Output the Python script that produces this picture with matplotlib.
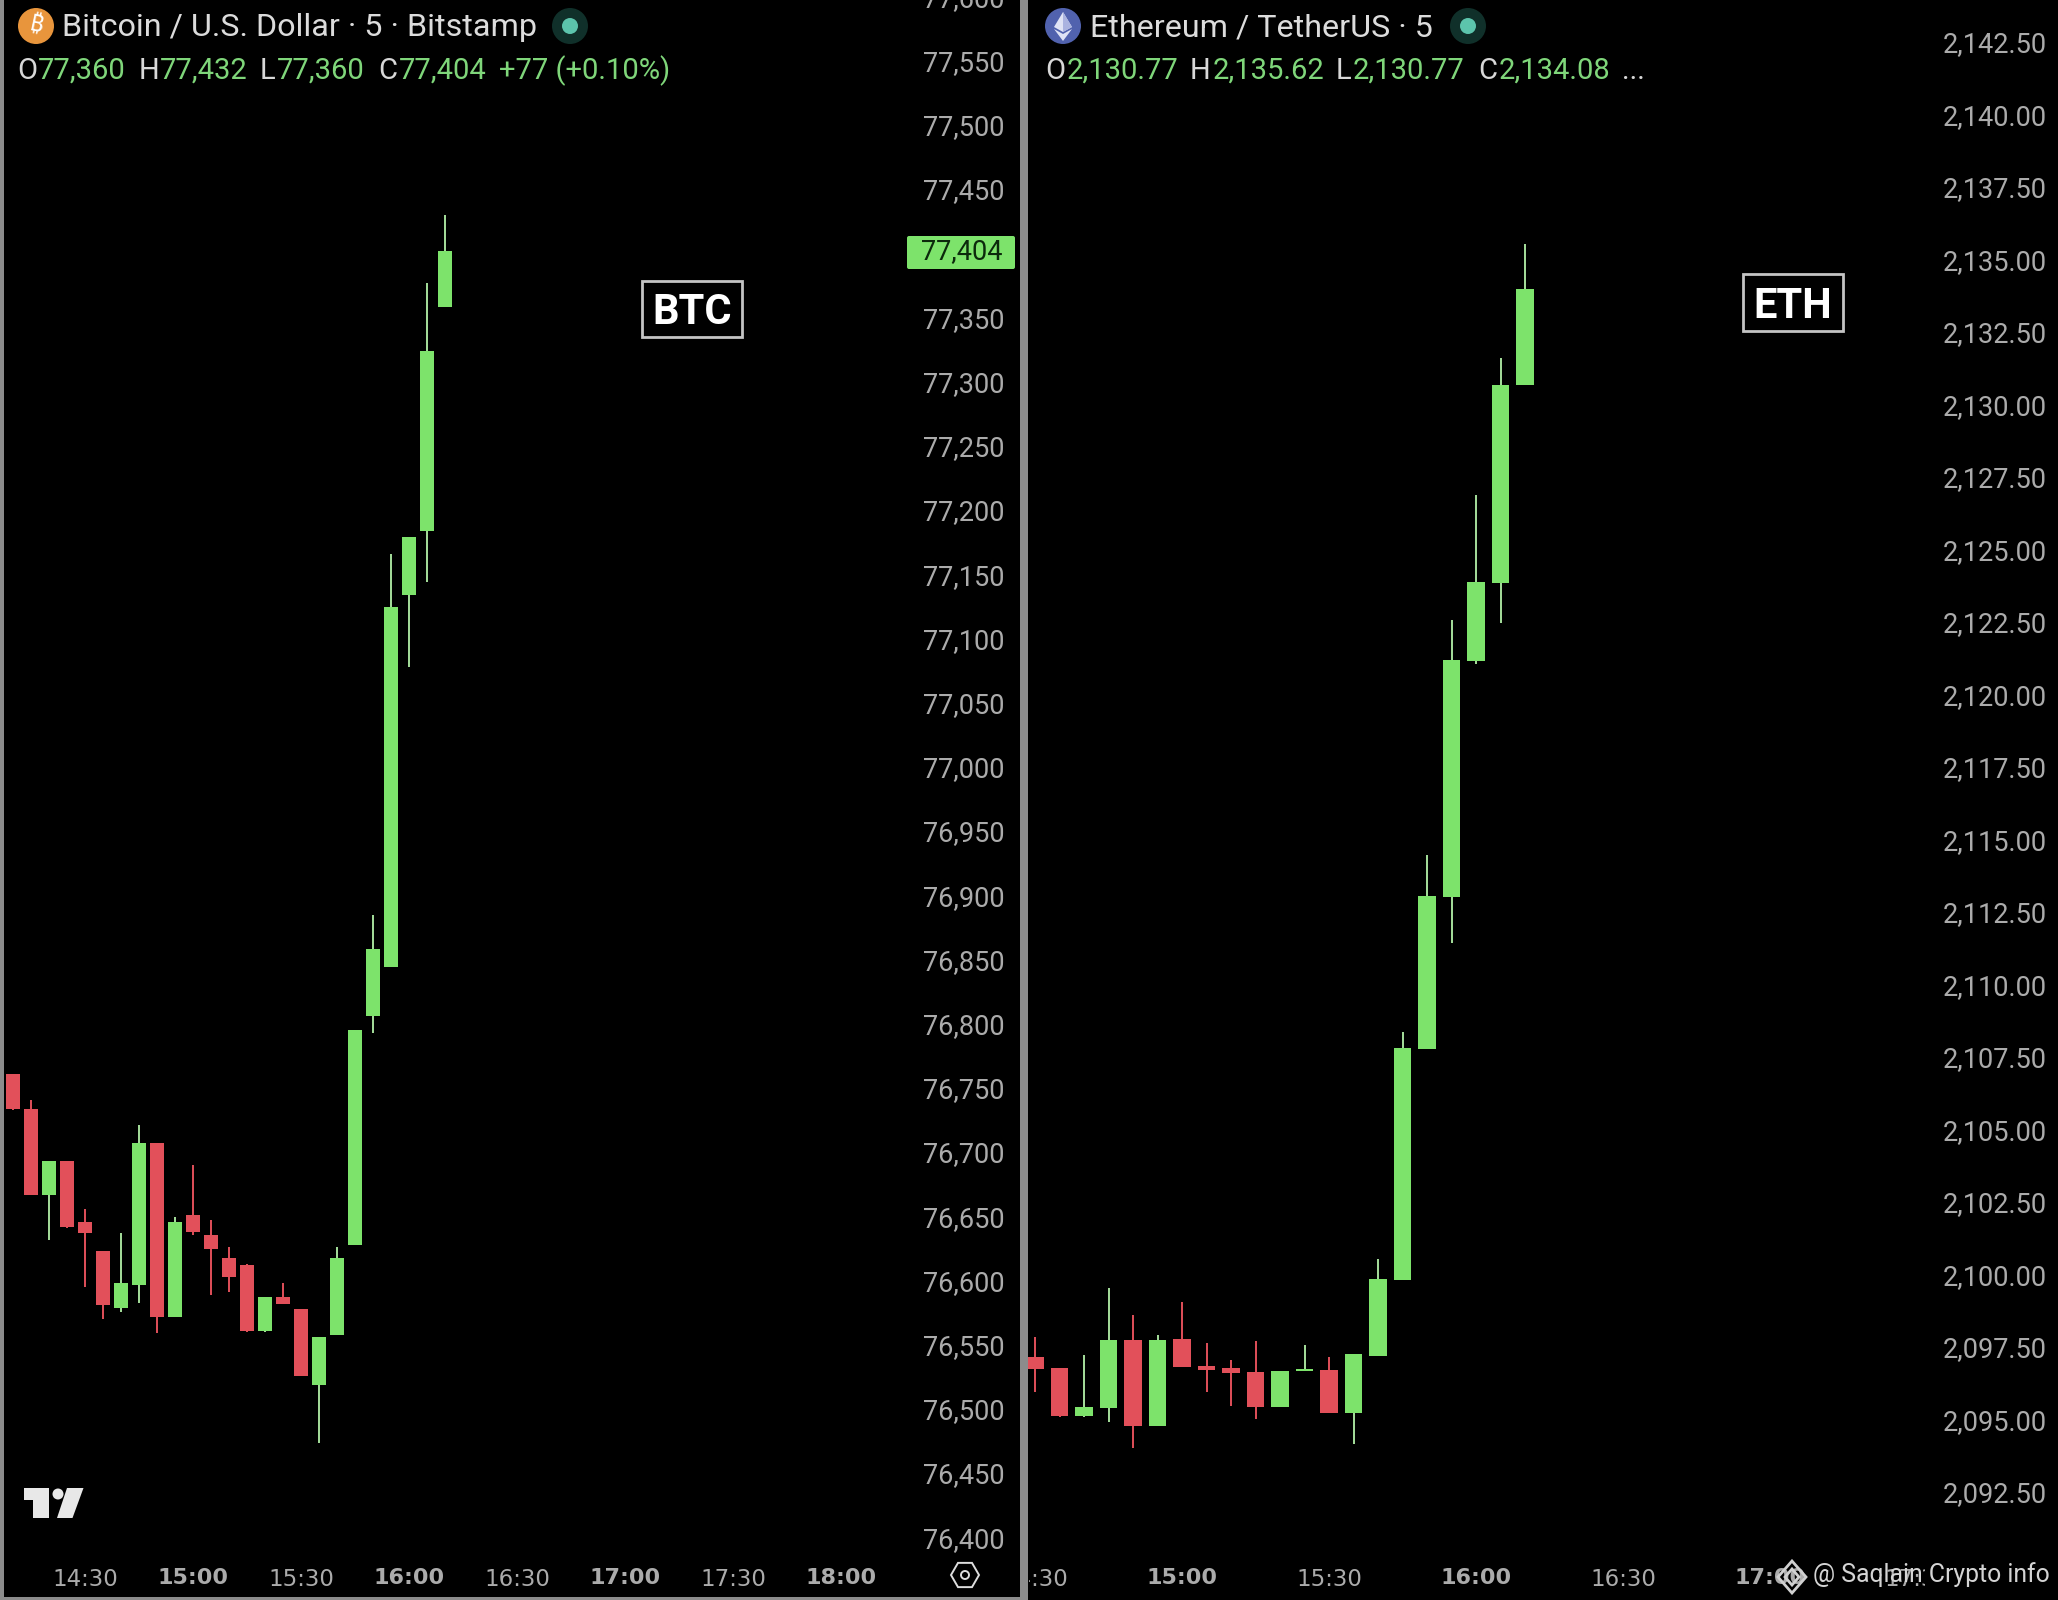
import numpy as np
import matplotlib
matplotlib.use("Agg")
import matplotlib.pyplot as plt
from matplotlib.patches import Circle, Polygon, Rectangle, RegularPolygon, FancyBboxPatch
from matplotlib.transforms import Bbox, ScaledTranslation

plt.rcParams['font.family'] = ['Roboto', 'DejaVu Sans']

# Bitcoin 5 minute candles
btc_open = [76763, 76736, 76669, 76695, 76648, 76625, 76581, 76599, 76709, 76574, 76653, 76638, 76620,
            76614, 76563, 76589, 76580, 76521, 76560, 76630, 76808, 76846, 77136, 77186, 77360]
btc_close = [76736, 76669, 76695, 76644, 76639, 76583, 76600, 76709, 76574, 76648, 76640, 76627, 76605,
             76563, 76589, 76584, 76528, 76558, 76620, 76797, 76860, 77127, 77181, 77326, 77404]
btc_high = [76763, 76743, 76695, 76695, 76658, 76625, 76639, 76723, 76709, 76652, 76692, 76649, 76628,
            76615, 76589, 76600, 76580, 76558, 76628, 76797, 76887, 77168, 77181, 77379, 77432]
btc_low = [76735, 76669, 76634, 76643, 76597, 76572, 76578, 76585, 76561, 76574, 76638, 76591, 76593,
           76562, 76562, 76584, 76528, 76476, 76560, 76630, 76795, 76846, 77080, 77146, 77360]

# Ethereum 5 minute candles
eth_open = [2097.25, 2096.87, 2095.21, 2095.49, 2097.83, 2094.87, 2097.87, 2096.94, 2096.87, 2096.73, 2095.52,
            2096.76, 2096.80, 2095.31, 2097.28, 2099.91, 2107.88, 2113.11, 2121.24, 2123.95, 2130.77]
eth_close = [2096.83, 2095.21, 2095.52, 2097.83, 2094.87, 2097.83, 2096.91, 2096.80, 2096.69, 2095.52, 2096.76,
             2096.82, 2095.31, 2097.35, 2099.94, 2107.90, 2113.14, 2121.28, 2123.97, 2130.76, 2134.08]
eth_high = [2097.94, 2096.87, 2097.30, 2099.61, 2098.68, 2098.00, 2099.14, 2097.72, 2097.14, 2097.79, 2096.76,
            2097.66, 2097.25, 2097.35, 2100.61, 2108.45, 2114.57, 2122.66, 2126.97, 2131.70, 2135.62]
eth_low = [2096.02, 2095.17, 2095.18, 2095.00, 2094.11, 2094.87, 2096.91, 2096.05, 2095.56, 2095.11, 2095.52,
           2096.76, 2095.31, 2094.25, 2097.28, 2099.91, 2107.88, 2111.52, 2121.15, 2122.57, 2130.77]

# axis ticks
btc_prices = list(range(76400, 77650, 50))
eth_prices = [2092.5 + 2.5 * i for i in range(21)]
btc_time_pos = [4, 10, 16, 22, 28, 34, 40, 46]
btc_times = ["14:30", "15:00", "15:30", "16:00", "16:30", "17:00", "17:30", "18:00"]
eth_time_pos = [0, 6, 12, 18, 24, 30, 36]
eth_times = ["14:30", "15:00", "15:30", "16:00", "16:30", "17:00", "17:30"]
bold_times = ["15:00", "16:00", "17:00", "18:00"]

GREEN = '#7de36b'
GREEN_WICK = '#a6e09c'
RED = '#e2505a'
LABEL = '#ababab'
W, H = 2058, 1600

fig = plt.figure(figsize=(W / 100, H / 100), dpi=100, facecolor='black')


def drawPanel(left, right, first_x, step, o, c, h, l, body, prices, fmt, pos, times, y_ref, y_scale, price_ref):
    # y_ref is the pixel row of price_ref, y_scale is pixels per unit of price
    top_px, bottom_px = -20, 1555
    ax = fig.add_axes([left / W, 1 - bottom_px / H, (right - left) / W, (bottom_px - top_px) / H])
    ax.set_facecolor('black')
    ax.set_xlim((left - first_x) / step, (right - first_x) / step)
    ax.set_ylim(price_ref - (bottom_px - y_ref) / y_scale, price_ref + (y_ref - top_px) / y_scale)
    for s in ax.spines.values():
        s.set_visible(False)

    x = np.arange(len(o))
    o, c, h, l = map(np.array, (o, c, h, l))
    colors = [GREEN if b >= a else RED for a, b in zip(o, c)]
    wicks = [GREEN_WICK if b >= a else RED for a, b in zip(o, c)]
    ax.vlines(x, l, h, colors=wicks, linewidth=1.4, zorder=2)
    ax.bar(x, np.abs(c - o), bottom=np.minimum(o, c), width=body, color=colors, zorder=3)

    ax.yaxis.tick_right()
    ax.set_yticks(prices)
    ax.set_yticklabels([fmt.format(p) for p in prices])
    ax.set_xticks(pos)
    ax.set_xticklabels(times)
    ax.tick_params(axis='y', length=0, pad=5, labelsize=19.5, labelcolor=LABEL)
    ax.tick_params(axis='x', length=0, pad=9, labelcolor=LABEL)
    # price labels sit a little above their price level
    up = ScaledTranslation(0, 3 / 100, fig.dpi_scale_trans)
    for t in ax.get_yticklabels():
        t.set_transform(t.get_transform() + up)
    for t in ax.get_xticklabels():
        t.set_family('DejaVu Sans')
        if t.get_text() in bold_times:
            t.set_fontweight('bold')
            t.set_fontsize(16)
        else:
            t.set_fontsize(16.5)
    return ax


ax1 = drawPanel(4, 916, 13, 18, btc_open, btc_close, btc_high, btc_low, 0.78, btc_prices, "{:,}",
                btc_time_pos, btc_times, 251, 1.284, 77404)
ax2 = drawPanel(1028, 1936, 1035, 24.5, eth_open, eth_close, eth_high, eth_low, 0.73, eth_prices, "{:,.2f}",
                eth_time_pos, eth_times, 288.75, 29.0, 2134.08)

# clip the time labels that run off the panels
for t in ax2.get_xticklabels():
    t.set_clip_on(True)
    if t.get_text() == "14:30":
        t.set_clip_box(Bbox([[1029, 0], [W, H]]))
    elif t.get_text() == "17:30":
        t.set_clip_box(Bbox([[1029, 0], [1925, H]]))

# overlay in pixel coordinates for header, logos and frames
ov = fig.add_axes([0, 0, 1, 1], zorder=10)
ov.set_xlim(0, W)
ov.set_ylim(H, 0)
ov.axis('off')
ov.patch.set_alpha(0)

# frame
FRAME = '#8c8c8c'
ov.add_patch(Rectangle((0, 0), 4, H, color=FRAME, lw=0))
ov.add_patch(Rectangle((1020, 0), 8, H, color=FRAME, lw=0))
ov.add_patch(Rectangle((0, 1597), 1028, 3, color=FRAME, lw=0))

# btc header
ov.add_patch(Circle((36, 26), 18, color='#e8953c', lw=0))
ov.text(36, 26, "\u20bf", color='white', fontsize=17, fontweight='bold', ha='center', va='center', rotation=-12,
        family=['Noto Sans', 'DejaVu Sans', 'Liberation Sans'])
ov.text(62, 28, "Bitcoin / U.S. Dollar \u00b7 5 \u00b7 Bitstamp", color='#dcdcdc', fontsize=23.2, va='center')
ov.add_patch(Circle((570, 26), 18, color='#10302a', lw=0))
ov.add_patch(Circle((570, 26), 8, color='#5cc4ac', lw=0))

# eth header
ov.add_patch(Circle((1063, 26), 18, color='#5162ae', lw=0))
ov.add_patch(Polygon([(1063, 12), (1072, 27), (1063, 32), (1054, 27)], color='#dfe3f5', lw=0))
ov.add_patch(Polygon([(1063, 12), (1072, 27), (1063, 32)], color='#aab3e0', lw=0))
ov.add_patch(Polygon([(1054, 29), (1063, 34), (1072, 29), (1063, 41)], color='#dfe3f5', lw=0))
ov.text(1090, 28, "Ethereum / TetherUS \u00b7 5", color='#dcdcdc', fontsize=23.2, va='center')
ov.add_patch(Circle((1468, 26), 18, color='#10302a', lw=0))
ov.add_patch(Circle((1468, 26), 8, color='#5cc4ac', lw=0))

# OHLC rows
btc_row = [(17, "O", 0), (38, "77,360", 1), (139, "H", 0), (160, "77,432", 1), (260, "L", 0), (277, "77,360", 1),
           (378, "C", 0), (399, "77,404", 1), (499, "+77 (+0.10%)", 1)]
eth_row = [(1045, "O", 0), (1067, "2,130.77", 1), (1190, "H", 0), (1213, "2,135.62", 1), (1336, "L", 0),
           (1353, "2,130.77", 1), (1478, "C", 0), (1499, "2,134.08", 1), (1622, "...", 0)]
for px, s, is_val in btc_row + eth_row:
    ov.text(px, 71, s, color='#7fd67a' if is_val else '#d8d8d8', fontsize=21, va='center')

# boxed tags
for x0, y0, x1, y1, s in [(642, 281, 742, 337, "BTC"), (1743, 274, 1843, 331, "ETH")]:
    ov.add_patch(Rectangle((x0, y0), x1 - x0, y1 - y0, facecolor='black', edgecolor='#c4c4c4', lw=2))
    ov.text((x0 + x1) / 2, (y0 + y1) / 2 + 4, s, color='white', fontsize=30, fontweight='bold', ha='center', va='center')

# last price tag
ov.add_patch(FancyBboxPatch((907, 236), 108, 33, boxstyle="round,pad=0,rounding_size=2", facecolor=GREEN,
                            edgecolor=GREEN, lw=0))
ov.text(962, 252, "77,404", color='#0c2a0c', fontsize=19.5, ha='center', va='center')

# settings icon
ov.add_patch(RegularPolygon((965, 1575), 6, radius=14, orientation=np.pi / 6, facecolor='none', edgecolor='#dddddd', lw=1.4))
ov.add_patch(Circle((965, 1575), 4, facecolor='none', edgecolor='#dddddd', lw=1.4))

# tradingview logo
ov.add_patch(Polygon([(24, 1488), (49, 1488), (49, 1518), (33, 1518), (33, 1500), (24, 1500)], color='#e8e8e8', lw=0))
ov.add_patch(Circle((58, 1494), 5.5, color='#e8e8e8', lw=0))
ov.add_patch(Polygon([(67, 1488), (83.5, 1488), (72.5, 1518), (57, 1518)], color='#e8e8e8', lw=0))

# watermark
ov.add_patch(Polygon([(1792, 1561), (1806, 1577), (1792, 1593), (1778, 1577)], facecolor='none', edgecolor='#d0d0d0', lw=2))
ov.add_patch(Polygon([(1792, 1569), (1799, 1577), (1792, 1585), (1785, 1577)], facecolor='none', edgecolor='#d0d0d0', lw=2))
ov.text(1813, 1575, "@ Saqlain Crypto info", color='#d4d4d4', fontsize=17.8, va='center')

fig.savefig('out.png', dpi=100, facecolor='black')
